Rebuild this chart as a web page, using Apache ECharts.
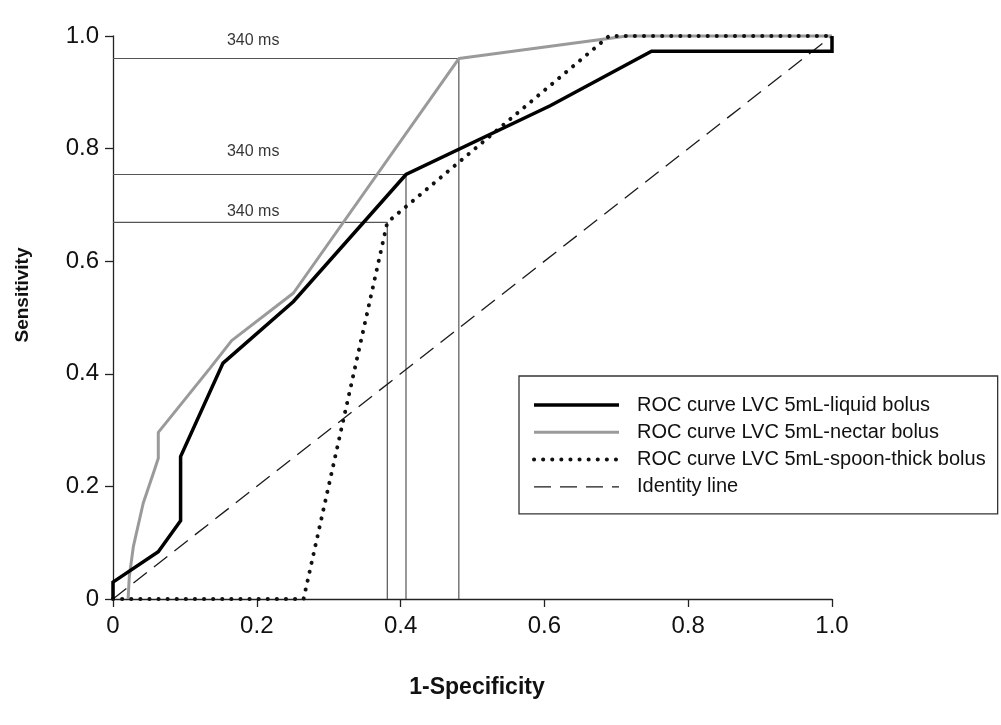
<!DOCTYPE html>
<html><head><meta charset="utf-8">
<script src="https://cdn.jsdelivr.net/npm/echarts@6/dist/echarts.min.js"></script>
<style>html,body{margin:0;padding:0;background:#fff}#c{width:1001px;height:725px}</style>
</head><body><div id="c"></div>
<script>
// ---- data ----
const axisTicks = [0, 0.2, 0.4, 0.6, 0.8, 1.0];
const liquidFpr = [0, 0, 0.063, 0.094, 0.094, 0.153, 0.251, 0.4075, 0.608, 0.749, 1.0, 1.0];
const liquidTpr = [0, 0.03, 0.084, 0.139, 0.253, 0.419, 0.5285, 0.754, 0.876, 0.973, 0.973, 1.0];
const nectarFpr = [0.021, 0.0227, 0.0283, 0.042, 0.056, 0.063, 0.063, 0.135, 0.165, 0.251, 0.481, 0.715, 1.0];
const nectarTpr = [0, 0.04, 0.093, 0.17, 0.223, 0.25, 0.296, 0.41, 0.459, 0.5435, 0.96, 1.0, 1.0];
const spoonFpr = [0, 0.265, 0.3815, 0.69, 1.0];
const spoonTpr = [0, 0, 0.669, 1.0, 1.0];
const identityX = [0, 1];
const identityY = [0, 1];
const cutoffFpr = [0.481, 0.4075, 0.3815];
const cutoffTpr = [0.96, 0.754, 0.669];
const cutoffText = ['340 ms', '340 ms', '340 ms'];
const cutoffLabelX = [0.195, 0.195, 0.195];
const cutoffLabelY = [0.992, 0.795, 0.6885];
const names = ['ROC curve LVC 5mL-liquid bolus', 'ROC curve LVC 5mL-nectar bolus', 'ROC curve LVC 5mL-spoon-thick bolus', 'Identity line'];

// ---- chart ----
const FONT = '"Liberation Sans", Arial, Helvetica, sans-serif';
const pairs = (xs, ys) => xs.map((x, i) => [x, ys[i]]);
const fmt = v => (v === 0 ? '0' : v.toFixed(1));
const chart = echarts.init(document.getElementById('c'), null, { renderer: 'canvas' });

function curve(name, xs, ys, color, lineStyle, z) {
  return {
    type: 'line', name: name, data: pairs(xs, ys),
    symbol: 'none', showSymbol: false, clip: false, z: z,
    itemStyle: { color: color },
    lineStyle: Object.assign({ color: color }, lineStyle),
    emphasis: { disabled: true }
  };
}

const series = [];
cutoffFpr.forEach((fx, i) => {
  series.push({
    type: 'line', name: 'cutoff' + i,
    data: [[0, cutoffTpr[i]], [fx, cutoffTpr[i]], [fx, 0]],
    symbol: 'none', clip: false, silent: true, z: 1,
    lineStyle: { color: '#555', width: 1.2 }
  });
});
series.push(curve(names[3], identityX, identityY, '#1a1a1a', { width: 1.3, type: [17, 9] }, 2));
series.push(curve(names[1], nectarFpr, nectarTpr, '#9a9a9a', { width: 3 }, 3));
series.push(curve(names[2], spoonFpr, spoonTpr, '#111', { width: 4, type: [0.1, 9], cap: 'round' }, 4));
series.push(curve(names[0], liquidFpr, liquidTpr, '#000', { width: 3.5, join: 'miter' }, 5));
series.push({
  type: 'scatter', name: 'labels', data: pairs(cutoffLabelX, cutoffLabelY),
  symbolSize: 0, silent: true, z: 6,
  label: { show: true, position: 'inside', formatter: p => cutoffText[p.dataIndex],
    fontSize: 16, color: '#000', fontFamily: FONT, textBorderWidth: 0 }
});

const axisCommon = {
  type: 'value', min: 0, max: 1, interval: 0.2,
  axisLine: { show: true, onZero: false, lineStyle: { color: '#222', width: 1.3 } },
  axisTick: { show: true, length: 8, lineStyle: { color: '#222', width: 1.3 } },
  splitLine: { show: false },
  axisLabel: { fontSize: 24, color: '#111', fontFamily: FONT, formatter: fmt }
};

chart.setOption({
  animation: false,
  backgroundColor: '#fff',
  grid: { left: 113, right: 169, top: 36, bottom: 126 },
  xAxis: Object.assign({}, axisCommon, { axisLabel: Object.assign({}, axisCommon.axisLabel, { margin: 15 }) }),
  yAxis: Object.assign({}, axisCommon, { axisLabel: Object.assign({}, axisCommon.axisLabel, { margin: 14 }) }),
  legend: {
    data: names, orient: 'vertical', left: 519, top: 376,
    padding: [19, 12, 17, 13], itemWidth: 85, itemHeight: 14, itemGap: 7.3,
    borderColor: '#333', borderWidth: 1.3, selectedMode: false,
    lineStyle: { width: 'inherit' },
    itemStyle: { opacity: 0, borderWidth: 0 },
    textStyle: { fontSize: 20, color: '#111', fontFamily: FONT, padding: [0, 0, 0, 13] }
  },
  graphic: [
    { type: 'text', x: 23, y: 295, rotation: Math.PI / 2,
      style: { text: 'Sensitivity', textAlign: 'center', textVerticalAlign: 'middle',
        font: 'bold 19px ' + FONT, fill: '#111' } },
    { type: 'text', x: 477, y: 688,
      style: { text: '1-Specificity', textAlign: 'center', textVerticalAlign: 'middle',
        font: 'bold 23px ' + FONT, fill: '#111' } }
  ],
  series: series
});
</script></body></html>
